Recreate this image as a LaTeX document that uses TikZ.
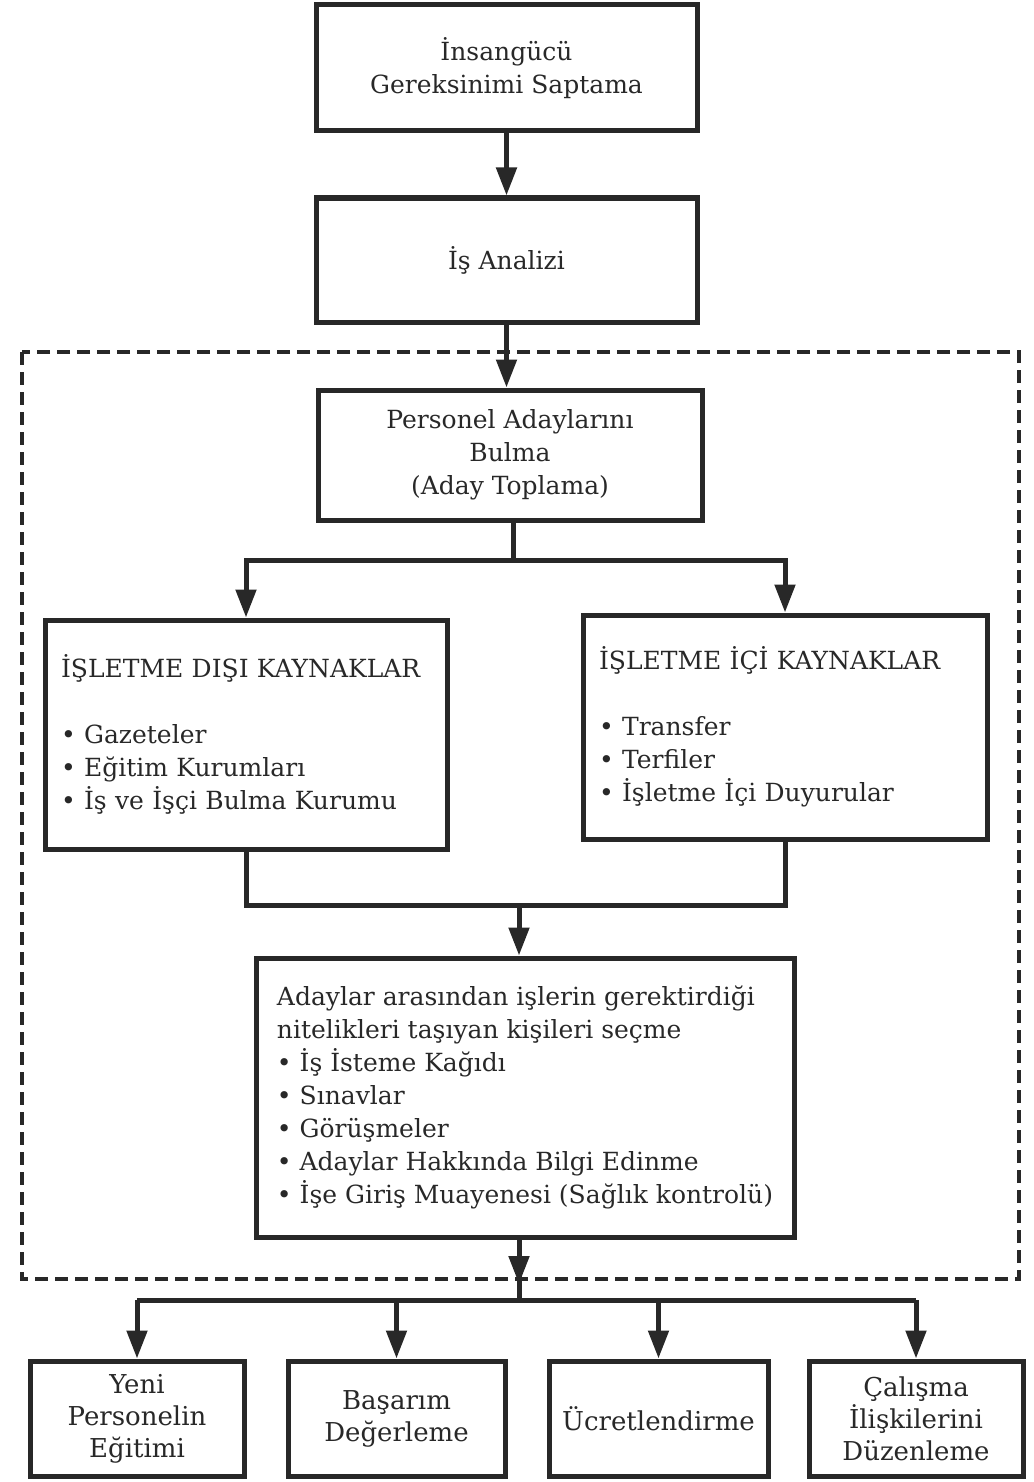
\documentclass[tikz,border=0pt]{standalone}
\usepackage{fontspec}
\setmainfont{DejaVu Serif}
\usetikzlibrary{arrows.meta}
\definecolor{ink}{RGB}{40,40,40}

\begin{document}
\begin{tikzpicture}[x=1pt,y=1pt,yscale=-1,
  box/.style={draw=ink, line width=5pt, rectangle, align=center, text=ink, inner sep=0pt,
    font=\fontsize{25}{33}\selectfont},
  listbox/.style={box, align=left, inner xsep=16pt},
  endbox/.style={box, minimum height=115pt, font=\fontsize{26}{32}\selectfont},
  line/.style={draw=ink, line width=5pt, line join=miter},
  arr/.style={line, -{Triangle[length=28pt,width=20pt]}},
  frame/.style={draw=ink, line width=3.5pt, dash pattern=on 13pt off 7pt}]
\useasboundingbox (0,0) rectangle (1033,1482);

%Shape: dashed frame
\draw[frame] (22,352) rectangle (1019,1279);

%Boxes
\node[box, minimum width=381pt, minimum height=126pt] (gereksinim) at (506.5,68) {İnsangücü\\Gereksinimi Saptama};
\node[box, minimum width=381pt, minimum height=124pt] (analiz) at (506.5,260) {İş Analizi};
\node[box, minimum width=384pt, minimum height=130pt] (aday) at (510,455) {Personel Adaylarını\\Bulma\\(Aday Toplama)};
\node[listbox, text width=370pt, minimum height=229pt] (disi) at (246,734.5)
  {İŞLETME DIŞI KAYNAKLAR\\[33pt] • Gazeteler\\ • Eğitim Kurumları\\ • İş ve İşçi Bulma Kurumu};
\node[listbox, text width=372pt, minimum height=224pt] (ici) at (785,727)
  {İŞLETME İÇİ KAYNAKLAR\\[33pt] • Transfer\\ • Terfiler\\ • İşletme İçi Duyurular};
\node[listbox, minimum width=538pt, minimum height=279pt] (secme) at (525,1097.5)
  {Adaylar arasından işlerin gerektirdiği\\nitelikleri taşıyan kişileri seçme\\ • İş İsteme Kağıdı\\ • Sınavlar\\ • Görüşmeler\\ • Adaylar Hakkında Bilgi Edinme\\ • İşe Giriş Muayenesi (Sağlık kontrolü)};
\node[endbox, minimum width=214pt] (egitim) at (137,1418.5) {Yeni\\Personelin\\Eğitimi};
\node[endbox, minimum width=217pt] (basarim) at (396.5,1418.5) {Başarım\\Değerleme};
\node[endbox, minimum width=219pt] (ucret) at (658.5,1418.5) {Ücretlendirme};
\node[endbox, minimum width=214pt] (iliski) at (916,1418.5) {Çalışma\\İlişkilerini\\Düzenleme};

%Connector points
\coordinate (split) at (513,560);
\coordinate (merge) at (519,905);
\coordinate (dist) at (519,1300);

%Connectors
\draw[arr] (gereksinim.south) -- (analiz.north);
\draw[arr] (analiz.south) -- (analiz.south |- aday.north);
\draw[line] (split |- aday.south) -- (split);
\draw[arr] (split) -| (disi.north);
\draw[arr] (split) -| (ici.north);
\draw[line] (disi.south) -- (disi.south |- merge) -- (ici.south |- merge) -- (ici.south);
\draw[arr] (merge) -- (merge |- secme.north);
\draw[line] (dist |- secme.south) -- (dist);
\draw[arr] (dist |- secme.south) -- (519,1284);
\draw[line] (dist -| egitim.north) -- (dist -| iliski.north);
\foreach \b in {egitim,basarim,ucret,iliski}
  \draw[arr] (dist -| \b.north) -- (\b.north);

\end{tikzpicture}
\end{document}
